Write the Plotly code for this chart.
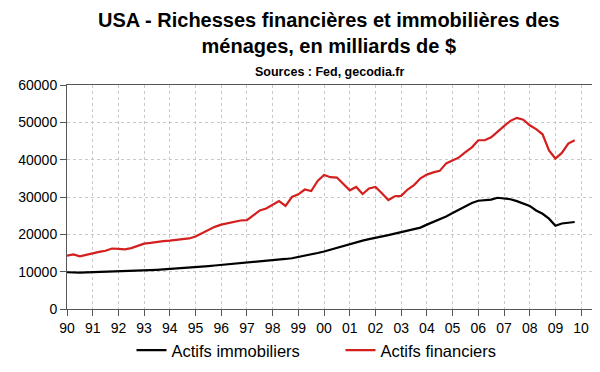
import plotly.graph_objects as go

# Quarterly data, 1990Q1 .. 2009Q4 (billions of $)
years = list(range(1990, 2010))
quarter_offsets = [0.0, 0.25, 0.5, 0.75]

actifs_immobiliers = [
    9850, 9700, 9750, 9800,      # 1990
    9850, 9900, 9950, 10000,     # 1991
    10100, 10150, 10200, 10250,  # 1992
    10350, 10450, 10500, 10600,  # 1993
    10700, 10800, 10900, 11050,  # 1994
    11200, 11350, 11500, 11650,  # 1995
    11800, 11950, 12050, 12150,  # 1996
    12300, 12450, 12600, 12800,  # 1997
    13000, 13200, 13400, 13600,  # 1998
    13900, 14300, 14700, 15000,  # 1999
    15400, 15900, 16300, 16900,  # 2000
    17500, 17900, 18300, 18700,  # 2001
    19000, 19400, 19800, 20200,  # 2002
    20600, 20900, 21300, 21800,  # 2003
    22600, 23300, 24000, 24800,  # 2004
    25700, 26600, 27500, 28400,  # 2005
    29000, 29200, 29300, 29800,  # 2006
    29700, 29400, 28900, 28300,  # 2007
    27600, 26400, 25500, 24200,  # 2008
    22300, 22900, 23200, 23300,  # 2009
]

actifs_financiers = [
    14300, 14600, 14100, 14500,  # 1990
    15100, 15300, 15600, 16200,  # 1991
    16100, 16000, 16300, 17000,  # 1992
    17500, 17700, 18000, 18200,  # 1993
    18300, 18400, 18700, 18900,  # 1994
    19400, 20300, 21200, 22000,  # 1995
    22600, 23000, 23500, 23700,  # 1996
    23800, 25200, 26400, 26900,  # 1997
    28000, 28900, 27600, 30000,  # 1998
    30700, 32000, 31600, 34300,  # 1999
    35900, 35300, 35200, 33500,  # 2000
    31800, 32700, 30800, 32300,  # 2001
    32700, 31000, 29200, 30200,  # 2002
    30300, 32000, 33200, 35000,  # 2003
    36000, 36600, 37000, 39000,  # 2004
    39700, 40600, 42000, 43300,  # 2005
    45200, 45200, 46000, 47600,  # 2006
    49000, 50400, 51200, 50700,  # 2007
    49200, 48200, 46800, 42500,  # 2008
    40300, 41800, 44300, 45200,  # 2009
]

x_dates = [y + q for y in years for q in quarter_offsets]

tick_years = list(range(1990, 2011))
tick_labels = [str(y)[2:] for y in tick_years]
y_ticks = [0, 10000, 20000, 30000, 40000, 50000, 60000]

FONT = "Arial, Liberation Sans, sans-serif"

fig = go.Figure()
fig.add_trace(go.Scatter(
    x=x_dates, y=actifs_immobiliers, mode="lines", name="Actifs immobiliers",
    line=dict(color="#000000", width=2.2),
))
fig.add_trace(go.Scatter(
    x=x_dates, y=actifs_financiers, mode="lines", name="Actifs financiers",
    line=dict(color="#d41f1f", width=2.2),
))

fig.update_layout(
    width=600, height=372,
    paper_bgcolor="white", plot_bgcolor="white",
    margin=dict(l=59, r=13, t=77, b=71, autoexpand=False),
    font=dict(family=FONT, color="#000000"),
    showlegend=True,
    legend=dict(
        orientation="h", x=0.518, xanchor="center", y=-0.107, yanchor="top",
        font=dict(size=16.5, family=FONT), bgcolor="rgba(0,0,0,0)",
        itemwidth=30, entrywidth=164,
    ),
    annotations=[
        dict(text="<b>USA - Richesses financières et immobilières des<br>ménages, en milliards de $</b>",
             xref="paper", yref="paper", x=0.5, y=1.0, yshift=78, xanchor="center",
             yanchor="top", showarrow=False, font=dict(size=20, family=FONT),
             align="center", xshift=-2),
        dict(text="<b>Sources : Fed, gecodia.fr</b>",
             xref="paper", yref="paper", x=0.5, y=1.0, yshift=22, xanchor="center",
             yanchor="top", showarrow=False, font=dict(size=12.5, family=FONT),
             xshift=-2),
    ],
)

fig.update_xaxes(
    range=[1990, 2010.54], tickmode="array", tickvals=tick_years, ticktext=tick_labels,
    ticks="outside", ticklen=6, tickcolor="#555555", tickwidth=1,
    showline=True, linecolor="#555555", linewidth=1, mirror=True,
    showgrid=True, gridcolor="#c8c8c8", griddash="dot", gridwidth=1,
    tickfont=dict(size=14, family=FONT), zeroline=False,
)
fig.update_yaxes(
    range=[0, 60000], tickmode="array", tickvals=y_ticks,
    ticktext=[str(v) for v in y_ticks],
    ticks="outside", ticklen=6, tickcolor="#555555", tickwidth=1,
    showline=True, linecolor="#555555", linewidth=1, mirror=True,
    showgrid=True, gridcolor="#c8c8c8", griddash="dot", gridwidth=1,
    tickfont=dict(size=14, family=FONT), zeroline=False,
)

fig.write_html("out.html")
